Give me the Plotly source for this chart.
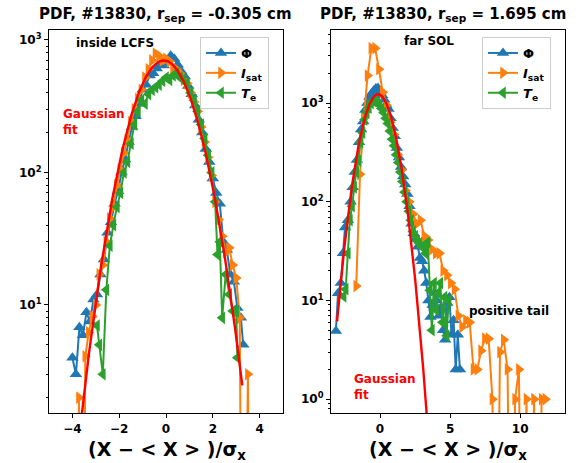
import numpy as np
import plotly.graph_objects as go

# ---------------- data: r_sep = -0.305 cm (inside LCFS) ----------------
phi_L_x = [-4.00, -3.85, -3.70, -3.55, -3.40, -3.25, -3.10, -2.95, -2.80, -2.65,
           -2.50, -2.35, -2.20, -2.05, -1.90, -1.75, -1.60, -1.45, -1.30, -1.15,
           -1.00, -0.85, -0.70, -0.55, -0.40, -0.25, -0.10, 0.05, 0.20, 0.35,
           0.50, 0.65, 0.80, 0.95, 1.10, 1.25, 1.40, 1.55, 1.70, 1.85,
           2.00, 2.15, 2.30, 2.45, 2.60, 2.75, 2.90, 3.05, 3.20, 3.30]
phi_L_y = [4.0, 3.0, 6.8, 5.9, 8.8, 7.5, 11, 12, 17, 22,
           35, 42, 58, 72, 100, 125, 170, 220, 265, 330,
           420, 460, 540, 560, 610, 650, 640, 700, 760, 720,
           650, 580, 530, 450, 390, 320, 250, 200, 150, 120,
           90, 70, 58, 30, 26, 17, 15, 9.5, 8.0, 5.0]

isat_L_x = [-3.85, -3.72, -3.58, -3.45, -3.30, -3.15, -3.00, -2.85, -2.70, -2.55,
            -2.40, -2.25, -2.10, -1.95, -1.80, -1.65, -1.50, -1.35, -1.20, -1.05,
            -0.90, -0.75, -0.60, -0.45, -0.30, -0.15, 0.00, 0.15, 0.30, 0.45,
            0.60, 0.75, 0.90, 1.05, 1.20, 1.35, 1.50, 1.65, 1.80, 1.95,
            2.10, 2.25, 2.40, 2.55, 2.70, 2.85, 3.00, 3.15, 3.30, 3.50, 3.65]
isat_L_y = [0, 2.0, 0, 4.1, 6.2, 8.2, 10, 17, 20, 30,
            45, 55, 80, 105, 140, 175, 240, 300, 360, 420,
            520, 600, 700, 790, 760, 700, 720, 690, 620, 600,
            560, 500, 470, 400, 340, 290, 220, 170, 130, 95,
            60, 44, 33, 25, 27, 20, 16, 8.0, 0, 3.0, 0]

te_L_x = [-2.95, -2.85, -2.70, -2.55, -2.40, -2.25, -2.10, -1.95, -1.80, -1.65,
          -1.50, -1.35, -1.20, -1.05, -0.90, -0.75, -0.60, -0.45, -0.30, -0.15,
          0.00, 0.15, 0.30, 0.45, 0.60, 0.75, 0.90, 1.05, 1.20, 1.35,
          1.50, 1.65, 1.80, 1.95, 2.10, 2.20, 2.30, 2.40, 2.55, 2.70,
          2.85, 3.00, 3.05]
te_L_y = [7.0, 5.0, 3.0, 13, 28, 40, 55, 70, 100, 120,
          165, 230, 290, 350, 330, 390, 420, 440, 460, 490,
          520, 500, 540, 560, 520, 500, 470, 400, 350, 290,
          230, 180, 135, 100, 60, 24, 30, 8.0, 17, 12,
          9.0, 9.0, 4.0]

# Gaussian fit parameters (amplitude, mean, width) and plotted x-extent
fit_L = dict(amp=700.0, mu=-0.10, sigma=1.00, x_from=-3.80, x_to=3.26)

# ---------------- data: r_sep = 1.695 cm (far SOL) ----------------
phi_R_x = [-3.15, -3.00, -2.80, -2.65, -2.50, -2.30, -2.10, -1.95, -1.80, -1.65,
           -1.50, -1.35, -1.20, -1.05, -0.90, -0.75, -0.60, -0.45, -0.30, -0.15,
           0.00, 0.15, 0.30, 0.45, 0.60, 0.75, 0.90, 1.05, 1.20, 1.35,
           1.50, 1.65, 1.80, 1.95, 2.10, 2.25, 2.40, 2.55, 2.70, 2.85,
           3.00, 3.15, 3.30, 3.45, 3.60, 3.75, 3.90, 4.05, 4.20, 4.35,
           4.50, 4.65, 4.80, 4.95, 5.10, 5.25, 5.40, 5.55, 5.70]
phi_R_y = [4.9, 11.8, 15, 30, 55, 65, 100, 140, 200, 265,
           400, 540, 650, 850, 1000, 1150, 1250, 1330, 1400, 1420,
           1300, 1200, 1080, 950, 870, 700, 560, 460, 350, 280,
           225, 180, 150, 120, 90, 60, 48, 42, 35, 27,
           25, 20, 15, 10, 6.8, 9.0, 12, 10, 7.0, 8.5,
           5.0, 4.0, 9.4, 10.8, 4.5, 6.3, 2.0, 4.5, 2.0]

isat_R_x = [-1.70, -1.43, -1.16, -0.89, -0.62, -0.35, -0.08, 0.19, 0.46, 0.73,
            1.00, 1.27, 1.54, 1.81, 2.08, 2.35, 2.62, 2.89, 3.16, 3.43,
            3.70, 3.97, 4.24, 4.51, 4.78, 5.05, 5.32, 5.59, 5.86, 6.13,
            6.40, 6.67, 6.94, 7.21, 7.48, 7.75, 8.02, 8.29, 8.56, 8.83,
            9.10, 9.37, 9.64, 9.91, 10.18, 10.45, 10.72, 10.99, 11.26, 11.53, 11.80]
isat_R_y = [14, 190, 700, 1900, 3600, 3600, 2200, 1290, 950, 640,
            480, 300, 210, 130, 100, 75, 60, 65, 45, 41,
            33, 30, 30, 20, 18, 15, 13, 7.0, 5.4, 6.3,
            6.0, 2.0, 2.0, 3.1, 4.1, 4.1, 1.0, 0, 3.0, 4.0,
            2.0, 0, 1.0, 2.0, 0, 1.0, 0, 1.0, 0, 1.0, 1.0]

te_R_x = [-2.60, -2.45, -2.30, -2.15, -2.00, -1.85, -1.70, -1.55, -1.40, -1.25,
          -1.10, -0.95, -0.80, -0.65, -0.50, -0.35, -0.20, -0.05, 0.10, 0.25,
          0.40, 0.55, 0.70, 0.85, 1.00, 1.15, 1.30, 1.45, 1.60, 1.75,
          1.90, 2.05, 2.20, 2.35, 2.50, 2.65, 2.80, 2.95, 3.10, 3.25,
          3.40, 3.55, 3.70, 3.85, 4.00, 4.15, 4.30, 4.45, 4.60, 4.75, 4.90]
te_R_y = [11, 13, 30, 65, 90, 140, 200, 260, 400, 500,
          680, 800, 900, 1000, 1050, 1080, 1000, 950, 880, 800,
          700, 620, 520, 430, 370, 300, 250, 200, 160, 125,
          100, 80, 65, 50, 45, 40, 38, 35, 36, 30,
          39, 12.7, 5.0, 15, 8.0, 12, 15, 6.0, 10.8, 4.4, 10]

fit_R = dict(amp=1230.0, mu=-0.14, sigma=0.90, x_from=-3.07, x_to=3.60)

# ---------------- styling ----------------
C_PHI, C_ISAT, C_TE, C_FIT = "#1f77b4", "#ff7f0e", "#2ca02c", "#ff0000"
FONT = "DejaVu Sans"
EMPTY_BIN = 1e-3  # empty histogram bins are clipped below the axis, as on a log plot


def counts(vals):
    v = np.asarray(vals, dtype=float)
    return np.where(v > 0, v, EMPTY_BIN)


def gauss_curve(p):
    xs = np.linspace(p["x_from"], p["x_to"], 200)
    return xs, p["amp"] * np.exp(-((xs - p["mu"]) ** 2) / (2 * p["sigma"] ** 2))


def series(x, y, name, color, symbol, xa, ya, legend):
    return go.Scatter(
        x=x, y=counts(y), name=name, mode="lines+markers",
        line=dict(color=color, width=2),
        marker=dict(symbol=symbol, size=11, color=color, line=dict(width=0)),
        xaxis=xa, yaxis=ya, legend=legend, cliponaxis=True,
    )


NAME_PHI = "<b>Φ</b>"
NAME_ISAT = "<b><i>I</i><sub>sat</sub></b>"
NAME_TE = "<b><i>T</i><sub>e</sub></b>"

fig = go.Figure()
fig.add_trace(series(phi_L_x, phi_L_y, NAME_PHI, C_PHI, "triangle-up", "x", "y", "legend"))
fig.add_trace(series(isat_L_x, isat_L_y, NAME_ISAT, C_ISAT, "triangle-right", "x", "y", "legend"))
fig.add_trace(series(te_L_x, te_L_y, NAME_TE, C_TE, "triangle-left", "x", "y", "legend"))
gx, gy = gauss_curve(fit_L)
fig.add_trace(go.Scatter(x=gx, y=gy, mode="lines", line=dict(color=C_FIT, width=2.4),
                         showlegend=False, xaxis="x", yaxis="y"))

fig.add_trace(series(phi_R_x, phi_R_y, NAME_PHI, C_PHI, "triangle-up", "x2", "y2", "legend2"))
fig.add_trace(series(isat_R_x, isat_R_y, NAME_ISAT, C_ISAT, "triangle-right", "x2", "y2", "legend2"))
fig.add_trace(series(te_R_x, te_R_y, NAME_TE, C_TE, "triangle-left", "x2", "y2", "legend2"))
gx, gy = gauss_curve(fit_R)
fig.add_trace(go.Scatter(x=gx, y=gy, mode="lines", line=dict(color=C_FIT, width=2.4),
                         showlegend=False, xaxis="x2", yaxis="y2"))

W, H = 576, 463


def px(xp):
    return xp / W


def py(yp):
    return 1 - yp / H


tickfont = dict(family=FONT, size=12, color="black", weight="bold")


def log_minor(lo_dec, hi_dec):
    vals = []
    for d in range(lo_dec, hi_dec + 1):
        vals += [m * 10 ** d for m in range(2, 10)]
    return vals


def xaxis_cfg(dom, rng, tickvals):
    return dict(domain=dom, range=rng, tickvals=tickvals,
                ticktext=[("−" if v < 0 else "") + str(abs(v)) for v in tickvals],
                showline=True, linecolor="black", linewidth=1.2, mirror=True,
                ticks="outside", ticklen=4, tickcolor="black", tickwidth=1,
                showgrid=False, zeroline=False, tickfont=tickfont)


def yaxis_cfg(dom, rng, decades, anchor):
    return dict(domain=dom, type="log", range=rng, anchor=anchor,
                tickvals=[10 ** d for d in decades],
                ticktext=[f"10<sup>{d}</sup>" for d in decades],
                showline=True, linecolor="black", linewidth=1.2, mirror=True,
                ticks="outside", ticklen=4, tickcolor="black", tickwidth=1,
                minor=dict(tickvals=log_minor(decades[0] - 1, decades[-1]),
                           ticks="outside", ticklen=2, tickcolor="black", tickwidth=0.8),
                showgrid=False, zeroline=False, tickfont=tickfont)


ydom = [py(413), py(30)]
legend_style = dict(yanchor="top", xanchor="left",
                    bgcolor="rgba(255,255,255,0.85)", bordercolor="#cccccc", borderwidth=1,
                    font=dict(family=FONT, size=13, color="black"),
                    tracegroupgap=0)
fig.update_layout(
    width=W, height=H, margin=dict(l=0, r=0, t=0, b=0),
    paper_bgcolor="white", plot_bgcolor="white",
    font=dict(family=FONT, color="black"),
    xaxis=xaxis_cfg([px(49), px(283)], [-5, 5], [-4, -2, 0, 2, 4]) | dict(anchor="y"),
    yaxis=yaxis_cfg(ydom, [np.log10(1.53), 3.075], [1, 2, 3], "x"),
    xaxis2=xaxis_cfg([px(331), px(565)], [-3.5, 13.2], [0, 5, 10]) | dict(anchor="y2"),
    yaxis2=yaxis_cfg(ydom, [-0.14, 3.74], [0, 1, 2, 3], "x2"),
    legend=dict(x=px(200), y=py(37), **legend_style),
    legend2=dict(x=px(482), y=py(37), **legend_style),
)


def note(text, x, y, size, color="black", xanchor="center", align="center"):
    fig.add_annotation(text=text, x=px(x), y=py(y), xref="paper", yref="paper",
                       xanchor=xanchor, yanchor="middle", align=align, showarrow=False,
                       font=dict(family=FONT, size=size, color=color, weight="bold"))


# titles
note("PDF, #13830, r<sub>sep</sub> = -0.305 cm", 165.5, 15, 15)
note("PDF, #13830, r<sub>sep</sub> = 1.695 cm", 442.5, 15, 15)
# axis labels
note("(X − < X > )/σ<sub>x</sub>", 166.5, 450, 19)
note("(X − < X > )/σ<sub>x</sub>", 448, 450, 19)
# region labels
note("inside LCFS", 114.5, 43, 12)
note("far SOL", 428.5, 41, 12)
note("positive tail", 508.5, 311, 12)
note("Gaussian<br>fit", 61, 122, 12, C_FIT, xanchor="left", align="left")
note("Gaussian<br>fit", 352, 387, 12, C_FIT, xanchor="left", align="left")

fig.write_html("out.html")
